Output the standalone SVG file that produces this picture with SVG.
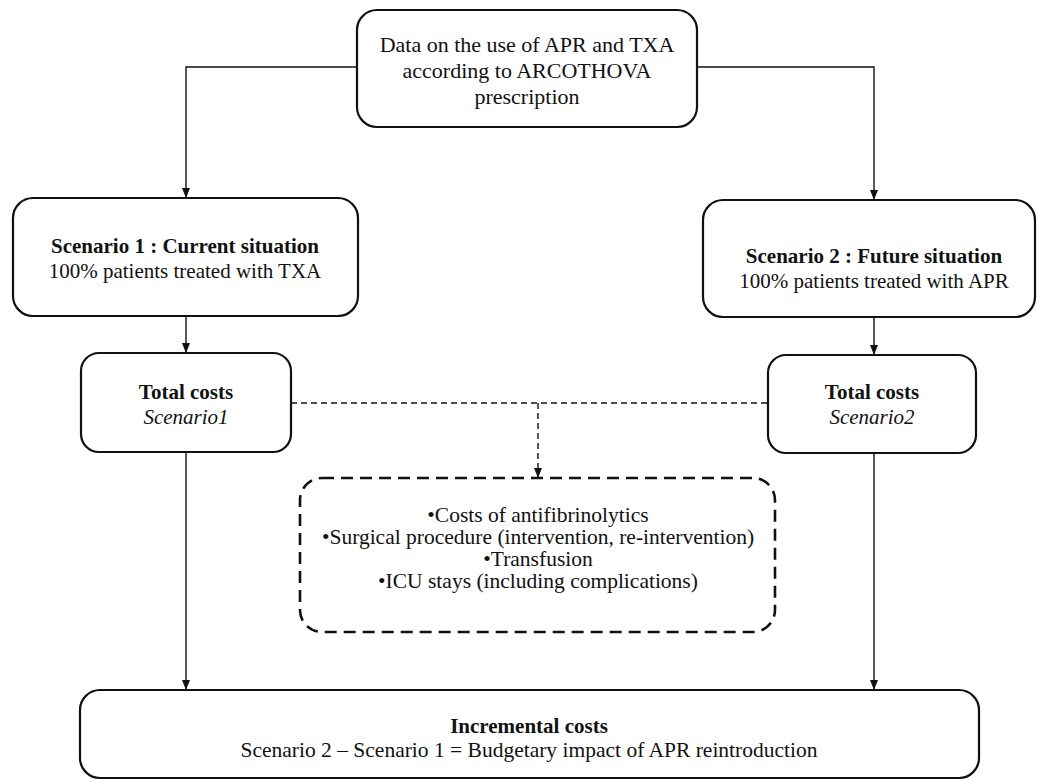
<svg xmlns="http://www.w3.org/2000/svg" width="1037" height="782" viewBox="0 0 1037 782">
<style>
.box{fill:#fff;stroke:#111;stroke-width:2.2}
.dbox{fill:#fff;stroke:#111;stroke-width:2.6;stroke-dasharray:12 7}
.ln{fill:none;stroke:#111;stroke-width:1.4}
.dln{fill:none;stroke:#111;stroke-width:1.4;stroke-dasharray:6 4}
text{font-size:21px;fill:#111;text-anchor:middle}
.b{font-weight:bold}
.i{font-style:italic}
.l{font-size:22px}
.m{font-size:21.5px}
</style>
<defs>
<marker id="ah" viewBox="0 0 10 10" refX="10" refY="5" markerWidth="10" markerHeight="10" markerUnits="userSpaceOnUse" orient="auto">
<path d="M0,1 L10,5 L0,9 Z" fill="#111"/>
</marker>
</defs>
<rect width="1037" height="782" fill="#fff"/>
<g id="connectors">
<path class="ln" d="M357,67 H186 V198" marker-end="url(#ah)"/>
<path class="ln" d="M697,67 H874 V200" marker-end="url(#ah)"/>
<path class="ln" d="M186,316 V353" marker-end="url(#ah)"/>
<path class="ln" d="M874,317 V355" marker-end="url(#ah)"/>
<path class="ln" d="M186,452 V690" marker-end="url(#ah)"/>
<path class="ln" d="M874,453 V690" marker-end="url(#ah)"/>
<path class="dln" d="M291,403 H768"/>
<path class="dln" d="M538,403 V478" marker-end="url(#ah)"/>
</g>
<g font-family="'Liberation Serif', 'Times New Roman', 'DejaVu Serif', serif">
<g id="node-data">
<rect class="box" x="357" y="10" width="340" height="117" rx="20"/>
<text class="l" x="527" y="52">Data on the use of APR and TXA</text>
<text class="l" x="527" y="78">according to ARCOTHOVA</text>
<text class="l" x="527" y="104">prescription</text>
</g>
<g id="node-scenario1">
<rect class="box" x="13" y="198" width="345" height="118" rx="20"/>
<text class="b" x="185" y="253">Scenario 1 : Current situation</text>
<text x="185" y="278">100% patients treated with TXA</text>
</g>
<g id="node-scenario2">
<rect class="box" x="703" y="200" width="332" height="117" rx="20"/>
<text class="b" x="874" y="263">Scenario 2 : Future situation</text>
<text x="874" y="288">100% patients treated with APR</text>
</g>
<g id="node-total1">
<rect class="box" x="81" y="353" width="210" height="99" rx="18"/>
<text class="b" x="186" y="399">Total costs</text>
<text class="i" x="186" y="424">Scenario1</text>
</g>
<g id="node-total2">
<rect class="box" x="768" y="355" width="208" height="98" rx="18"/>
<text class="b" x="872" y="399">Total costs</text>
<text class="i" x="872" y="424">Scenario2</text>
</g>
<g id="node-costs">
<rect class="dbox" x="300" y="478" width="475" height="154" rx="22"/>
<text class="m" x="538" y="522">•Costs of antifibrinolytics</text>
<text class="m" x="538" y="544">•Surgical procedure (intervention, re-intervention)</text>
<text class="m" x="538" y="566">•Transfusion</text>
<text class="m" x="538" y="588">•ICU stays (including complications)</text>
</g>
<g id="node-incremental">
<rect class="box" x="80" y="690" width="899" height="88" rx="20"/>
<text class="b" x="529" y="733">Incremental costs</text>
<text class="m" x="529" y="757">Scenario 2 – Scenario 1 = Budgetary impact of APR reintroduction</text>
</g>
</g>
</svg>
